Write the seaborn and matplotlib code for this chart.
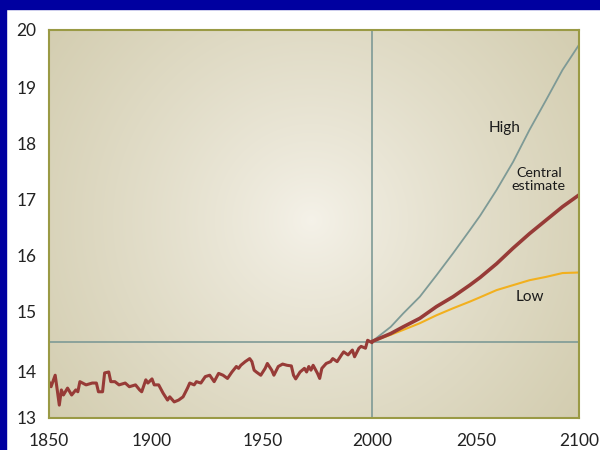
import numpy as np
import matplotlib
matplotlib.use('Agg')
import matplotlib.pyplot as plt
import seaborn as sns

hist_years = [1850, 1851, 1853, 1854, 1855, 1856, 1857, 1859, 1861, 1863, 1864, 1865,
              1868, 1871, 1873, 1874, 1876, 1877, 1879, 1880, 1882, 1884, 1887, 1889,
              1892, 1894, 1895, 1897, 1898, 1900, 1901, 1903, 1905, 1907, 1908, 1910,
              1912, 1914, 1916, 1917, 1919, 1920, 1922, 1924, 1926, 1928, 1930, 1932,
              1934, 1936, 1938, 1939, 1940, 1942, 1944, 1945, 1946, 1947, 1949, 1951,
              1952, 1954, 1955, 1957, 1959, 1961, 1963, 1964, 1965, 1967, 1969, 1970,
              1971, 1972, 1973, 1975, 1976, 1977, 1979, 1981, 1982, 1984, 1986, 1987,
              1989, 1991, 1992, 1994, 1995, 1997, 1998, 2000]
hist_temp = [13.79, 13.68, 13.93, 13.61, 13.28, 13.61, 13.50, 13.65, 13.50, 13.61, 13.57, 13.79,
             13.72, 13.76, 13.76, 13.57, 13.57, 13.98, 14.00, 13.79, 13.79, 13.72, 13.76, 13.68,
             13.72, 13.61, 13.57, 13.83, 13.76, 13.85, 13.72, 13.72, 13.54, 13.39, 13.46, 13.35,
             13.39, 13.46, 13.65, 13.76, 13.72, 13.79, 13.76, 13.90, 13.93, 13.79, 13.97, 13.93,
             13.86, 14.00, 14.09, 14.06, 14.11, 14.17, 14.22, 14.17, 14.03, 14.00, 13.93, 14.06,
             14.14, 14.03, 13.93, 14.09, 14.13, 14.11, 14.10, 13.93, 13.85, 14.00, 14.06, 14.00,
             14.09, 14.03, 14.11, 13.97, 13.86, 14.06, 14.14, 14.17, 14.22, 14.17, 14.28, 14.33,
             14.28, 14.36, 14.25, 14.39, 14.42, 14.39, 14.52, 14.48]

# projections to 2100
proj_years = [2000, 2009, 2015, 2023, 2031, 2039, 2047, 2052, 2060, 2068, 2076, 2084, 2092, 2100]
high_temp = [14.50, 14.74, 14.96, 15.26, 15.65, 16.05, 16.46, 16.72, 17.18, 17.68, 18.25,
             18.77, 19.30, 19.74]
central_temp = [14.50, 14.63, 14.74, 14.88, 15.08, 15.26, 15.47, 15.61, 15.86, 16.14, 16.40,
                16.64, 16.88, 17.09]
low_temp = [14.50, 14.61, 14.69, 14.80, 14.93, 15.05, 15.17, 15.25, 15.38, 15.47, 15.56,
            15.62, 15.69, 15.70]

base_year = 2000
base_temp = 14.5

x_ticks = [1850, 1900, 1950, 2000, 2050, 2100]
y_ticks = [13, 14, 15, 16, 17, 18, 19, 20]
# the printed scale is not evenly spaced, keep its spacing (pixels from the origin)
x_tick_px = [0, 103, 214, 323, 427, 530]
y_tick_px = [0, 46, 107, 162, 218, 274, 331, 388]

RED = '#973B37'
GREY = '#7E9A96'
GOLD = '#F2B01E'
OLIVE = '#9A9A45'


def stretched(ticks, px):
    fwd = lambda v: np.interp(v, ticks, px)
    inv = lambda p: np.interp(p, px, ticks)
    return fwd, inv


sns.set_style('white')
plt.rcParams['font.family'] = ['Lato', 'DejaVu Sans']

fig = plt.figure(figsize=(6, 4.5), dpi=100)
fig.patch.set_facecolor('white')

# blue slide frame on the left and top
fig.patches.append(plt.Rectangle((0, 0), 6 / 600, 1, transform=fig.transFigure,
                                 color='#0000A0', zorder=0))
fig.patches.append(plt.Rectangle((0, 1 - 8.5 / 450), 1, 8.5 / 450, transform=fig.transFigure,
                                 color='#0000A0', zorder=0))

rect = [49 / 600, 32 / 450, 530 / 600, 388 / 450]

# radial beige background
bg = fig.add_axes(rect, zorder=0)
h, w = 388, 530
yy, xx = np.mgrid[0:h, 0:w]
d = np.clip(np.hypot(xx - 262, yy - 190) / 330, 0, 1) ** 0.85
c0 = np.array([245, 242, 233]) / 255
c1 = np.array([211, 205, 176]) / 255
bg.imshow(c0 + (c1 - c0) * d[..., None], aspect='auto', extent=(0, 1, 0, 1))
bg.axis('off')

ax = fig.add_axes(rect, zorder=1)
ax.set_facecolor('none')
ax.set_xscale('function', functions=stretched(x_ticks, x_tick_px))
ax.set_yscale('function', functions=stretched(y_ticks, y_tick_px))

ax.axvline(base_year, color=GREY, lw=1.2, zorder=1)
ax.axhline(base_temp, color=GREY, lw=1.2, zorder=1)

sns.lineplot(x=proj_years, y=high_temp, color=GREY, lw=1.3, estimator=None, ax=ax)
sns.lineplot(x=proj_years, y=low_temp, color=GOLD, lw=1.5, estimator=None, ax=ax)
sns.lineplot(x=proj_years, y=central_temp, color=RED, lw=2.6, estimator=None, ax=ax)
sns.lineplot(x=hist_years, y=hist_temp, color=RED, lw=2.2, estimator=None, ax=ax)

ax.set_xlim(1850, 2100)
ax.set_ylim(13, 20)
ax.set_xticks(x_ticks)
ax.set_yticks(y_ticks)
ax.set_xticklabels([str(t) for t in x_ticks])
ax.set_yticklabels([str(t) for t in y_ticks])
ax.tick_params(axis='x', direction='in', length=10, width=1.4, color=GREY,
               pad=11, labelsize=12.5, labelcolor='#222222')
ax.tick_params(axis='y', direction='in', length=11, width=1.4, color=OLIVE,
               pad=9, labelsize=12.5, labelcolor='#222222')
for t, loc in zip(ax.xaxis.get_major_ticks(), x_ticks):
    if loc in (1850, base_year, 2100):
        t.tick1line.set_visible(False)
for t, loc in zip(ax.yaxis.get_major_ticks(), y_ticks):
    if loc in (13, 20):
        t.tick1line.set_visible(False)
ax.set_xlabel('')
ax.set_ylabel('')

for s in ax.spines.values():
    s.set_visible(True)
    s.set_color(OLIVE)
    s.set_linewidth(1.5)

lbl = dict(ha='center', va='center', color='#1A1A1A')
ax.text(2064, 18.28, 'High', fontsize=11, **lbl)
ax.text(2080.5, 17.36, 'Central\nestimate', fontsize=10.3, linespacing=1.1, **lbl)
ax.text(2076, 15.25, 'Low', fontsize=11, **lbl)

fig.savefig('out.png', dpi=100)
